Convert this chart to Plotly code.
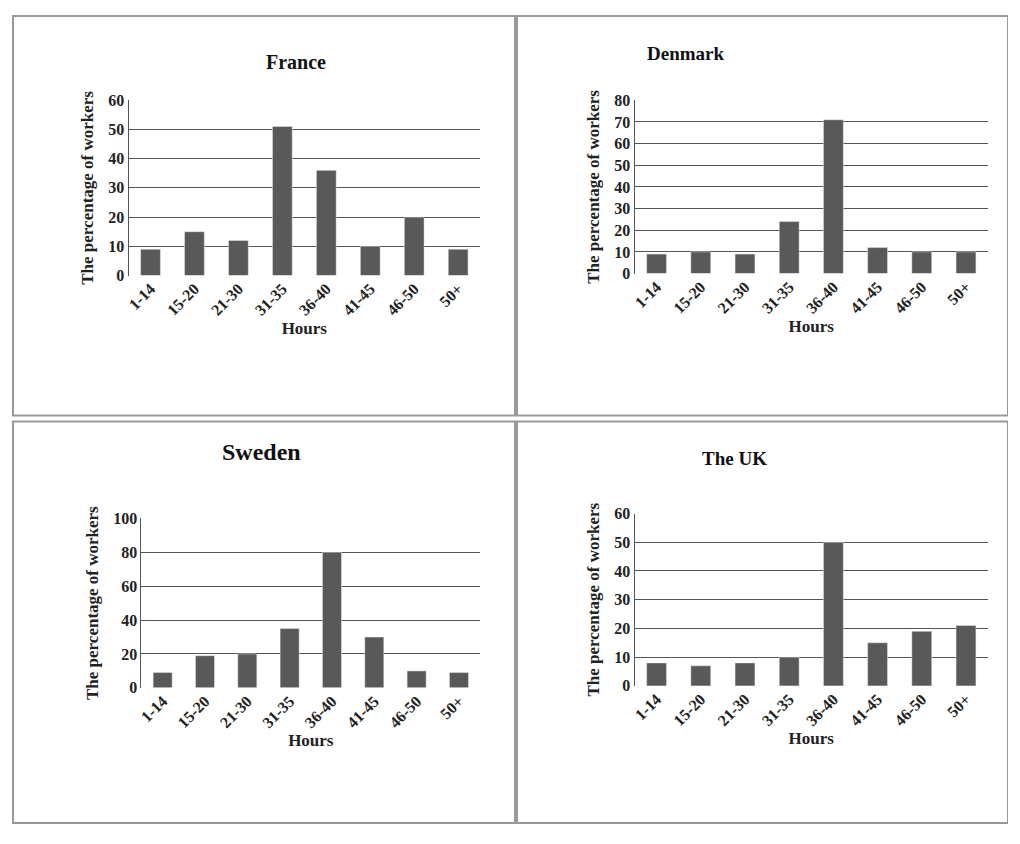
import plotly.graph_objects as go

hours = ["1-14", "15-20", "21-30", "31-35", "36-40", "41-45", "46-50", "50+"]
france = [9, 15, 12, 51, 36, 10, 20, 9]
denmark = [9, 10, 9, 24, 71, 12, 10, 10]
sweden = [9, 19, 20, 35, 80, 30, 10, 9]
uk = [8, 7, 8, 10, 50, 15, 19, 21]
titles = ["France", "Denmark", "Sweden", "The UK"]
ranges = [(60, 10), (80, 10), (100, 20), (60, 10)]

W, H = 1000, 824
OX, OY = 10, 14
def fx(x): return max(0, min(W, x - OX)) / W
def fy(y): return 1 - max(0, min(H, y - OY)) / H

areas = [(127, 480, 100, 279), (635, 990, 100, 277), (140, 480, 527, 700), (635, 990, 522, 698)]
title_pos = [(263, 48), (727, 40), (219, 459), (770, 466)]
title_size = [20, 19, 24, 19]
panels = [(11, 515, 6, 422), (517, 1016, 6, 422), (11, 515, 428, 840), (517, 1016, 428, 840)]

font = "Liberation Serif"
fig = go.Figure()
data = [france, denmark, sweden, uk]
for i, vals in enumerate(data):
    n = "" if i == 0 else str(i + 1)
    fig.add_trace(go.Bar(x=hours, y=vals, marker_color="#595959", width=0.45,
                         xaxis="x" + n, yaxis="y" + n, showlegend=False))
    x0, x1, yt, yb = areas[i]
    mx, st = ranges[i]
    yticks = list(range(0, mx + 1, st))
    fig.update_layout(**{
        "xaxis" + n: dict(domain=[fx(x0), fx(x1)], anchor="y" + n, tickangle=-45,
                          showgrid=False, showline=False, ticks="",
                          tickvals=hours, ticktext=["<b>%s</b>" % h for h in hours],
                          tickfont=dict(family=font, size=16, color="#222"),
                          title=dict(text="<b>Hours</b>", font=dict(family=font, size=17, color="#222"), standoff=4)),
        "yaxis" + n: dict(domain=[fy(yb), fy(yt)], anchor="x" + n, range=[0, mx],
                          tickvals=yticks, ticktext=["<b>%d</b>" % v for v in yticks],
                          showgrid=True, gridcolor="#555", gridwidth=1,
                          showline=True, linecolor="#555", zeroline=False, ticks="",
                          tickfont=dict(family=font, size=16, color="#222"),
                          title=dict(text="<b>The percentage of workers</b>",
                                     font=dict(family=font, size=17, color="#222"), standoff=10)),
    })
    tx, ty = title_pos[i]
    fig.add_annotation(x=fx(tx), y=fy(ty), xref="paper", yref="paper", showarrow=False,
                       text="<b>%s</b>" % titles[i], font=dict(family=font, size=title_size[i], color="#111"))
    px0, px1, py0, py1 = panels[i]
    fig.add_shape(type="rect", xref="paper", yref="paper", x0=fx(px0), x1=fx(px1),
                  y0=fy(py1), y1=fy(py0), line=dict(color="#999", width=2))

fig.update_layout(width=W, height=H, margin=dict(l=0, r=0, t=0, b=0),
                  plot_bgcolor="white", paper_bgcolor="white", bargap=0.5)
fig.write_html("out.html")
